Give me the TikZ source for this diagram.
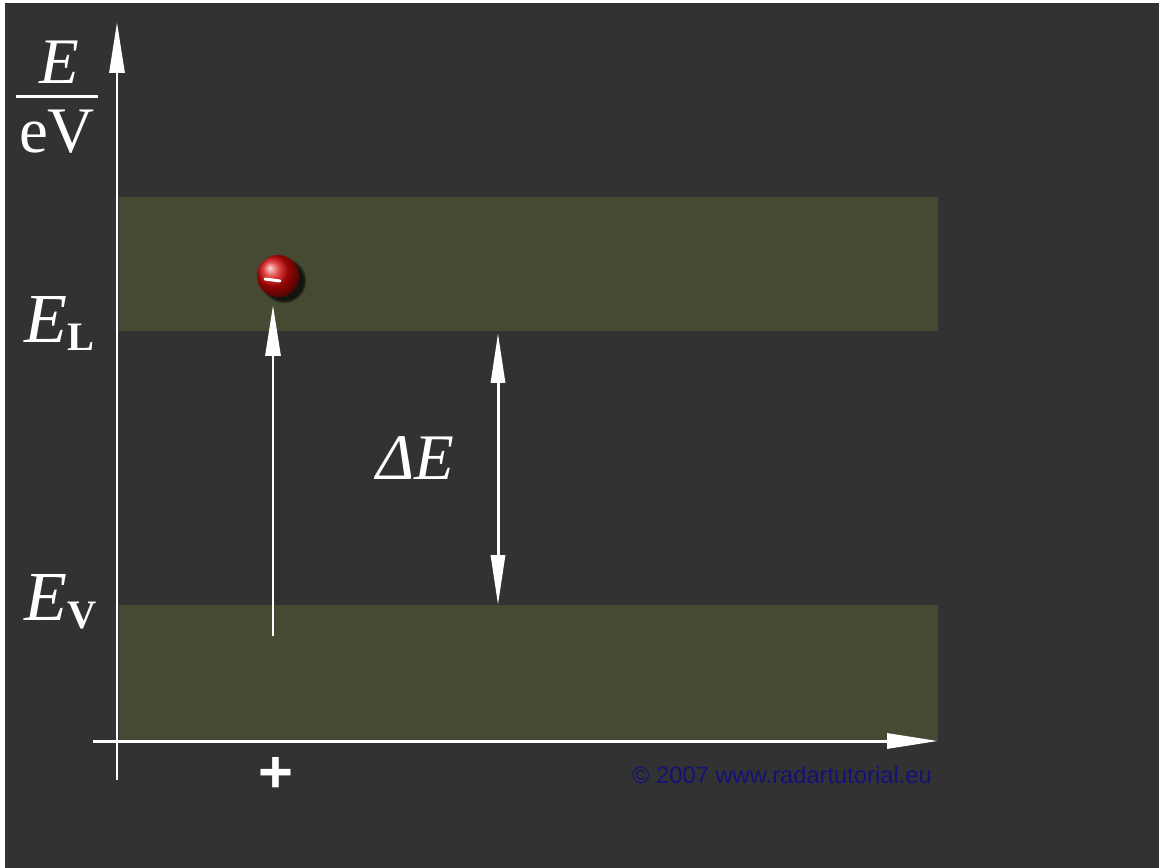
\documentclass[tikz,border=0pt]{standalone}
\usepackage{fontspec}
\setmainfont{Liberation Serif}
\newfontfamily\creditfont{Liberation Sans}
\usetikzlibrary{arrows.meta, shadows}
\definecolor{panel}{RGB}{50,50,50}
\definecolor{bandfill}{RGB}{70,74,50}
\definecolor{credit}{RGB}{18,18,120}
\definecolor{electronred}{RGB}{215,8,8}
\tikzset{
  arrowline/.style={draw=white, line width=1.7pt},
  axisarrow/.style={arrowline, -{Triangle[length=1.02cm, width=0.3cm]}},
  gaparrow/.style={arrowline, {Triangle[length=1.0cm, width=0.28cm]}-{Triangle[length=1.0cm, width=0.28cm]}},
  levellabel/.style={text=white, font=\fontsize{40}{44}\selectfont, inner sep=0pt},
  unitlabel/.style={levellabel, font=\fontsize{37}{40}\selectfont}
}
\begin{document}
\begin{tikzpicture}[x=0.02cm, y=-0.02cm]
  \useasboundingbox (0,0) rectangle (1159,868);
  \fill[white] (0,0) rectangle (1159,868);
  \fill[panel] (5,3) rectangle (1159,868);

  % energy bands
  \fill[bandfill] (119,197) rectangle (938,331);
  \fill[bandfill] (119,605) rectangle (938,740);

  % axes
  \coordinate (yfoot) at (117,780);
  \coordinate (ytip)  at (117,22);
  \coordinate (xfoot) at (93,741);
  \coordinate (xtip)  at (938,741);
  \draw[axisarrow] (yfoot) -- (ytip);
  \draw[axisarrow] (xfoot) -- (xtip);

  % labels
  \node[unitlabel, anchor=base] (enum) at (59,84) {\textit{E}};
  \node[unitlabel, anchor=base] (eden) at (57,153) {eV};
  \fill[white] (16,95.5) rectangle (98,98.5);
  \node[levellabel, anchor=base west] (elabel) at (24,342)
    {\textit{E}\raisebox{-0.12em}{\normalfont\bfseries\fontsize{23}{26}\selectfont L}};
  \node[levellabel, anchor=base west] (vlabel) at (24,620)
    {\textit{E}\raisebox{-0.12em}{\normalfont\bfseries\fontsize{23}{26}\selectfont V}};
  \node[unitlabel] (gaplabel) at (415,458) {\textit{ΔE}};

  % electron excitation
  \node[circle, inner sep=0pt, minimum size=0.84cm, ball color=electronred, shade,
        circular drop shadow={shadow xshift=0.1cm, shadow yshift=-0.08cm, fill=black, opacity=0.7}]
        (electron) at (278,276) {};
  \draw[white, line width=0.06cm, line cap=round] ([xshift=-0.26cm, yshift=-0.06cm]electron.center) -- ([xshift=0.04cm, yshift=-0.1cm]electron.center);
  \coordinate (jumpfoot) at (273,636);
  \coordinate (jumptip)  at (273,305);
  \draw[axisarrow] (jumpfoot) -- (jumptip);

  % band gap
  \coordinate (gaptop) at (498,333);
  \coordinate (gapbot) at (498,605);
  \draw[gaparrow] (gaptop) -- (gapbot);

  % hole
  \node[text=white, font=\creditfont\bfseries\fontsize{34}{36}\selectfont, inner sep=0pt] (hole) at (276,775) {+};

  % credit
  \node[text=credit, font=\creditfont\fontsize{13.5}{15}\selectfont, inner sep=0pt] (credit) at (782,775)
    {© 2007 www.radartutorial.eu};
\end{tikzpicture}
\end{document}
